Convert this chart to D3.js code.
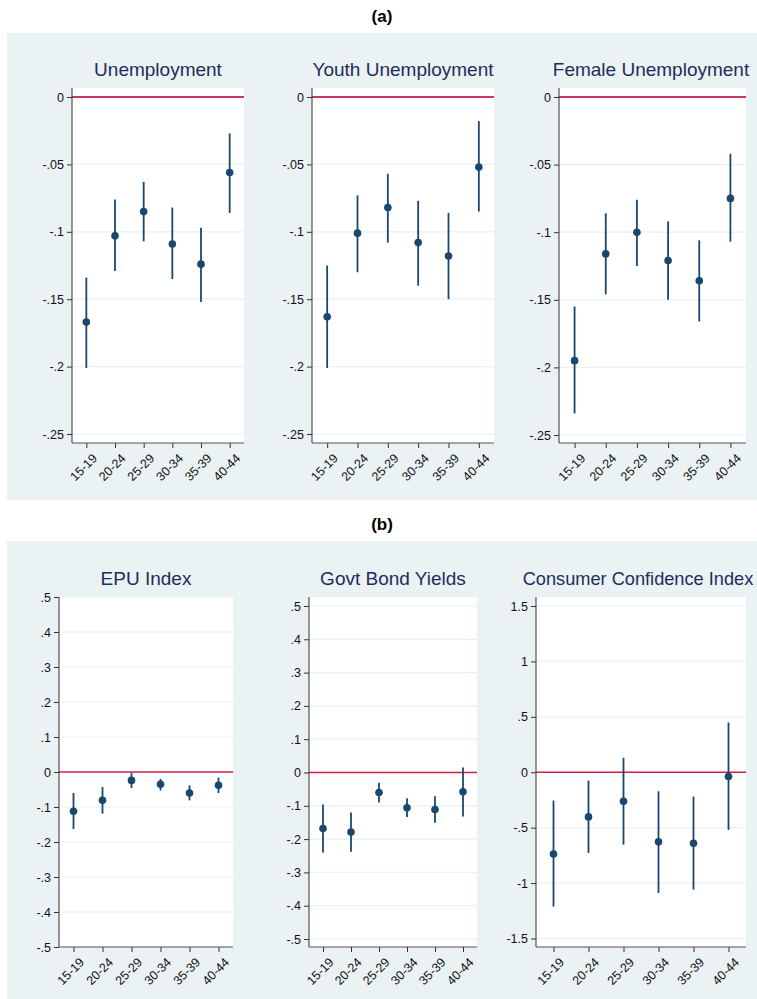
<!DOCTYPE html>
<html>
<head>
<meta charset="utf-8">
<script src="https://cdn.jsdelivr.net/npm/d3@7"></script>
<style>
  body { margin: 0; background: #fff; }
</style>
</head>
<body>
<div id="chart"></div>
<script>
// age groups on the x axis
const ageGroups = ["15-19", "20-24", "25-29", "30-34", "35-39", "40-44"];

// panel (a): point estimates and 95% bounds
const unempEst = [-0.167, -0.103, -0.085, -0.109, -0.124, -0.056];
const unempLo  = [-0.201, -0.129, -0.107, -0.135, -0.152, -0.086];
const unempHi  = [-0.134, -0.076, -0.063, -0.082, -0.097, -0.027];

const youthEst = [-0.163, -0.101, -0.082, -0.108, -0.118, -0.052];
const youthLo  = [-0.201, -0.130, -0.108, -0.140, -0.150, -0.085];
const youthHi  = [-0.125, -0.073, -0.057, -0.077, -0.086, -0.018];

const femaleEst = [-0.195, -0.116, -0.100, -0.121, -0.136, -0.075];
const femaleLo  = [-0.234, -0.146, -0.125, -0.150, -0.166, -0.107];
const femaleHi  = [-0.155, -0.086, -0.076, -0.092, -0.106, -0.042];

// panel (b)
const epuEst = [-0.112, -0.081, -0.024, -0.035, -0.060, -0.038];
const epuLo  = [-0.163, -0.119, -0.046, -0.053, -0.081, -0.060];
const epuHi  = [-0.060, -0.043, -0.003, -0.020, -0.038, -0.016];

const bondEst = [-0.168, -0.179, -0.060, -0.106, -0.111, -0.058];
const bondLo  = [-0.240, -0.238, -0.090, -0.134, -0.151, -0.132];
const bondHi  = [-0.096, -0.120, -0.031, -0.077, -0.071, 0.015];

const cciEst = [-0.737, -0.403, -0.262, -0.628, -0.641, -0.039];
const cciLo  = [-1.212, -0.728, -0.653, -1.089, -1.059, -0.520];
const cciHi  = [-0.255, -0.075, 0.130, -0.171, -0.219, 0.449];

// y tick values
const ticksA    = [0, -0.05, -0.1, -0.15, -0.2, -0.25];
const ticksEpu  = [0.5, 0.4, 0.3, 0.2, 0.1, 0, -0.1, -0.2, -0.3, -0.4, -0.5];
const ticksBond = [0.5, 0.4, 0.3, 0.2, 0.1, 0, -0.1, -0.2, -0.3, -0.4, -0.5];
const ticksCci  = [1.5, 1, 0.5, 0, -0.5, -1, -1.5];

// layout
const width = 757, height = 999;
const font = "'Liberation Sans', Arial, Helvetica, sans-serif";
const bgColor = "#eaf2f3";
const navy = "#1a476f";

const groups = [
    {label: "(a)", labelY: 22, box: {x: 7, y: 33, w: 750, h: 467}, titleY: 76, refColor: "#c8385a", refWidth: 2},
    {label: "(b)", labelY: 530, box: {x: 7, y: 541, w: 750, h: 458}, titleY: 585, refColor: "#d11f43", refWidth: 1.4}
];

const panels = [
    {group: 0, title: "Unemployment", est: unempEst, lo: unempLo, hi: unempHi, ticks: ticksA,
     left: 72, right: 244, top: 88, bottom: 443, padTop: 9, padBottom: 9, titleX: 158, titleSize: 19},
    {group: 0, title: "Youth Unemployment", est: youthEst, lo: youthLo, hi: youthHi, ticks: ticksA,
     left: 312, right: 494, top: 88, bottom: 443, padTop: 9, padBottom: 9, titleX: 403, titleSize: 19},
    {group: 0, title: "Female Unemployment", est: femaleEst, lo: femaleLo, hi: femaleHi, ticks: ticksA,
     left: 559, right: 746, top: 88, bottom: 443, padTop: 9, padBottom: 8, titleX: 651, titleSize: 19},
    {group: 1, title: "EPU Index", est: epuEst, lo: epuLo, hi: epuHi, ticks: ticksEpu,
     left: 59, right: 233, top: 597, bottom: 947, padTop: 0, padBottom: 0, titleX: 146, titleSize: 19},
    {group: 1, title: "Govt Bond Yields", est: bondEst, lo: bondLo, hi: bondHi, ticks: ticksBond,
     left: 309, right: 477, top: 597, bottom: 947, padTop: 9, padBottom: 8, titleX: 393, titleSize: 19},
    {group: 1, title: "Consumer Confidence Index", est: cciEst, lo: cciLo, hi: cciHi, ticks: ticksCci,
     left: 536, right: 746, top: 597, bottom: 947, padTop: 9, padBottom: 8.5, titleX: 638, titleSize: 18.2}
];

// stata style labels: -.05, .5, 1.5
const fmt = v => String(v).replace(/^(-?)0\./, "$1.");

const svg = d3.select("#chart")
    .append("svg")
    .attr("width", width)
    .attr("height", height)
    .style("font-family", font);

svg.append("rect")
    .attr("width", width)
    .attr("height", height)
    .attr("fill", "#fff");

// group backgrounds and (a)/(b) labels
groups.forEach(g => {
    svg.append("rect")
        .attr("x", g.box.x)
        .attr("y", g.box.y)
        .attr("width", g.box.w)
        .attr("height", g.box.h)
        .attr("fill", bgColor);

    svg.append("text")
        .attr("x", g.box.x + g.box.w / 2)
        .attr("y", g.labelY)
        .attr("text-anchor", "middle")
        .attr("font-size", "17px")
        .attr("font-weight", "bold")
        .attr("fill", "#000")
        .text(g.label);
});

panels.forEach(p => {
    const g = groups[p.group];
    const pg = svg.append("g");

    const x = d3.scalePoint()
        .domain(ageGroups)
        .range([p.left, p.right])
        .padding(0.5);

    const y = d3.scaleLinear()
        .domain([d3.min(p.ticks), d3.max(p.ticks)])
        .range([p.bottom - p.padBottom, p.top + p.padTop]);

    // plot region
    pg.append("rect")
        .attr("x", p.left)
        .attr("y", p.top)
        .attr("width", p.right - p.left)
        .attr("height", p.bottom - p.top)
        .attr("fill", "#fff");

    // gridlines
    pg.append("g")
        .selectAll("line")
        .data(p.ticks)
        .join("line")
        .attr("x1", p.left)
        .attr("x2", p.right)
        .attr("y1", d => y(d))
        .attr("y2", d => y(d))
        .attr("stroke", bgColor)
        .attr("stroke-width", 1.2);

    // zero reference line
    pg.append("line")
        .attr("x1", p.left)
        .attr("x2", p.right)
        .attr("y1", y(0))
        .attr("y2", y(0))
        .attr("stroke", g.refColor)
        .attr("stroke-width", g.refWidth);

    // y axis
    const yAxis = pg.append("g")
        .attr("transform", `translate(${p.left},0)`)
        .call(d3.axisLeft(y).tickValues(p.ticks).tickSize(5).tickPadding(3).tickFormat(fmt));
    yAxis.select(".domain").remove();
    yAxis.selectAll("line").attr("stroke", "#333");
    yAxis.selectAll("text")
        .attr("font-family", font)
        .attr("font-size", "12.5px")
        .attr("fill", "#111");

    // x axis
    const xAxis = pg.append("g")
        .attr("transform", `translate(0,${p.bottom})`)
        .call(d3.axisBottom(x).tickSize(5).tickPadding(2));
    xAxis.select(".domain").remove();
    xAxis.selectAll("line").attr("stroke", "#333");
    xAxis.selectAll("text")
        .attr("font-family", font)
        .attr("font-size", "12.5px")
        .attr("fill", "#111")
        .attr("text-anchor", "end")
        .attr("dy", "0.35em")
        .attr("transform", "translate(3,8) rotate(-45)");

    // axis lines over the whole plot region
    pg.append("line")
        .attr("x1", p.left).attr("x2", p.left)
        .attr("y1", p.top).attr("y2", p.bottom)
        .attr("stroke", "#333");
    pg.append("line")
        .attr("x1", p.left).attr("x2", p.right)
        .attr("y1", p.bottom).attr("y2", p.bottom)
        .attr("stroke", "#555");

    const rows = ageGroups.map((a, i) => ({age: a, est: p.est[i], lo: p.lo[i], hi: p.hi[i]}));

    // confidence intervals
    pg.append("g")
        .selectAll("line")
        .data(rows)
        .join("line")
        .attr("x1", d => x(d.age))
        .attr("x2", d => x(d.age))
        .attr("y1", d => y(d.lo))
        .attr("y2", d => y(d.hi))
        .attr("stroke", navy)
        .attr("stroke-width", 1.8);

    // point estimates
    pg.append("g")
        .selectAll("circle")
        .data(rows)
        .join("circle")
        .attr("cx", d => x(d.age))
        .attr("cy", d => y(d.est))
        .attr("r", 3.8)
        .attr("fill", navy);

    // panel title
    pg.append("text")
        .attr("x", p.titleX)
        .attr("y", g.titleY)
        .attr("text-anchor", "middle")
        .attr("font-size", p.titleSize + "px")
        .attr("fill", "#1e2d5a")
        .text(p.title);
});
</script>
</body>
</html>
